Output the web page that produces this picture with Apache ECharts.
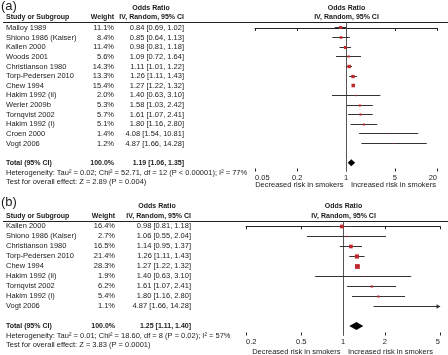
<!DOCTYPE html>
<html>
<head>
<meta charset="utf-8">
<script src="https://cdn.jsdelivr.net/npm/echarts@6/dist/echarts.min.js"></script>
<style>
  html, body { margin: 0; padding: 0; background: #fff; }
  #chart { width: 448px; height: 355px; }
</style>
</head>
<body>
<div id="chart"></div>
<script>
// panel (a): all studies
const studiesA = ['Malloy 1989', 'Shiono 1986 (Kaiser)', 'Kallen 2000', 'Woods 2001', 'Christianson 1980',
  'Torp-Pedersen 2010', 'Chew 1994', 'Hakim 1992 (ii)', 'Werler 2009b', 'Tornqvist 2002',
  'Hakim 1992 (i)', 'Croen 2000', 'Vogt 2006'];
const weightsA = [11.1, 8.4, 11.4, 5.6, 14.3, 13.3, 15.4, 2.0, 5.3, 5.7, 5.1, 1.4, 1.2];
const orA = [0.84, 0.85, 0.98, 1.09, 1.11, 1.26, 1.27, 1.40, 1.58, 1.61, 1.80, 4.08, 4.87];
const loA = [0.69, 0.64, 0.81, 0.72, 1.01, 1.11, 1.22, 0.63, 1.03, 1.07, 1.16, 1.54, 1.66];
const hiA = [1.02, 1.13, 1.18, 1.64, 1.22, 1.43, 1.32, 3.10, 2.42, 2.41, 2.80, 10.81, 14.28];
const totalA = [1.19, 1.06, 1.35];
const hetA = 'Heterogeneity: Tau\u00b2 = 0.02; Chi\u00b2 = 52.71, df = 12 (P < 0.00001); I\u00b2 = 77%';
const testA = 'Test for overall effect: Z = 2.89 (P = 0.004)';
const ticksA = [0.05, 0.2, 1, 5, 20];
const tickLabelsA = ['0.05', '0.2', '1', '5', '20'];

// panel (b): subset
const studiesB = ['Kallen 2000', 'Shiono 1986 (Kaiser)', 'Christianson 1980', 'Torp-Pedersen 2010',
  'Chew 1994', 'Hakim 1992 (ii)', 'Tornqvist 2002', 'Hakim 1992 (i)', 'Vogt 2006'];
const weightsB = [16.4, 2.7, 16.5, 21.4, 28.3, 1.9, 6.2, 5.4, 1.1];
const orB = [0.98, 1.06, 1.14, 1.26, 1.27, 1.40, 1.61, 1.80, 4.87];
const loB = [0.81, 0.55, 0.95, 1.11, 1.22, 0.63, 1.07, 1.16, 1.66];
const hiB = [1.18, 2.04, 1.37, 1.43, 1.32, 3.10, 2.41, 2.80, 14.28];
const totalB = [1.25, 1.11, 1.40];
const hetB = 'Heterogeneity: Tau\u00b2 = 0.01; Chi\u00b2 = 18.60, df = 8 (P = 0.02); I\u00b2 = 57%';
const testB = 'Test for overall effect: Z = 3.83 (P = 0.0001)';
const ticksB = [0.2, 0.5, 1, 2, 5];
const tickLabelsB = ['0.2', '0.5', '1', '2', '5'];

const FONT = "'Liberation Sans', Arial, sans-serif";
const TXT = '#1a1a1a';
const SQUARE = '#c0282d';
const REG_SIZE = 7.5;
const BOLD_SIZE = 7;

const snap = v => Math.round(v - 0.5) + 0.5;
const fmtOr = (o, l, h) => `${o.toFixed(2)} [${l.toFixed(2)}, ${h.toFixed(2)}]`;

function txt(x, y, text, align, bold) {
  return {
    type: 'text', x: x, y: y,
    style: {
      text: text, fill: TXT, align: align || 'left', verticalAlign: 'middle',
      font: bold ? `bold ${BOLD_SIZE}px ${FONT}` : `${REG_SIZE}px ${FONT}`
    }
  };
}

// layout of each panel (pixels / row units)
const layoutA = {
  top: 22, bottom: 171.5, left: 255, right: 437, ymin: -0.62, ymax: 14.9,
  nameX: 6, weightX: 114, orX: 184, orHeadX: 151,
  totalRow: 14, hetRow: 15, testRow: 16, head1: -2.1, head2: -1.1, noteDy: 13.5, diamondH: 3.5
};
const layoutB = {
  top: 221, bottom: 335.5, left: 246, right: 440, ymin: -0.53, ymax: 10.95,
  nameX: 6, weightX: 115, orX: 191, orHeadX: 157,
  totalRow: 10, hetRow: 11, testRow: 11.92, head1: -2.05, head2: -1.05, noteDy: 16.5, diamondH: 4
};

function buildPanel(p, d, L) {
  const xi = p * 2, yi = p;
  const lmin = Math.log10(d.ticks[0]);
  const lmax = Math.log10(d.ticks[d.ticks.length - 1]);
  const tickVals = d.ticks.map(t => Math.log10(t));
  const labelOf = v => {
    const k = tickVals.findIndex(t => Math.abs(t - v) < 1e-6);
    return k >= 0 ? d.tickLabels[k] : '';
  };

  const grid = { left: L.left, top: L.top, width: L.right - L.left, height: L.bottom - L.top };
  const xAxes = [
    {
      gridIndex: p, type: 'value', min: lmin, max: lmax, position: 'bottom',
      axisLine: { lineStyle: { color: '#222', width: 1 } },
      axisTick: { customValues: tickVals, length: 3, lineStyle: { color: '#222' } },
      axisLabel: {
        customValues: tickVals, formatter: labelOf, fontSize: REG_SIZE, fontFamily: FONT, color: TXT,
        margin: 2, alignMinLabel: 'left', alignMaxLabel: 'right'
      },
      splitLine: { show: false }
    },
    {
      gridIndex: p, type: 'value', min: lmin, max: lmax, position: 'bottom', offset: 0,
      axisLine: { show: false },
      axisTick: { customValues: tickVals, inside: true, length: 3, lineStyle: { color: '#222' } },
      axisLabel: { show: false },
      splitLine: { show: false }
    }
  ];
  const yAxis = { gridIndex: p, type: 'value', inverse: true, min: L.ymin, max: L.ymax, show: false };

  const common = { type: 'custom', xAxisIndex: xi, yAxisIndex: yi, silent: true, clip: false };

  // header rule, line of no effect, headings and direction notes
  const frame = Object.assign({}, common, {
    data: [[0, 0]],
    renderItem: (params, api) => {
      const x1 = snap(api.coord([0, 0])[0]);
      const yTop = snap(api.coord([0, L.ymin])[1]);
      const yBot = api.coord([0, L.ymax])[1];
      const h1 = api.coord([0, L.head1])[1];
      const h2 = api.coord([0, L.head2])[1];
      return {
        type: 'group', children: [
          { type: 'line', shape: { x1: 3, y1: yTop, x2: 448, y2: yTop }, style: { stroke: '#222', lineWidth: 1 } },
          { type: 'line', shape: { x1: x1, y1: yTop, x2: x1, y2: yBot }, style: { stroke: '#555', lineWidth: 1 } },
          txt(x1, h1, 'Odds Ratio', 'center', true),
          txt(x1, h2, 'IV, Random, 95% CI', 'center', true),
          txt(L.nameX, h2, 'Study or Subgroup', 'left', true),
          txt(L.weightX, h2, 'Weight', 'right', true),
          txt(L.orHeadX, h1, 'Odds Ratio', 'center', true),
          txt(L.orX, h2, 'IV, Random, 95% CI', 'right', true),
          txt(x1 - 3, yBot + L.noteDy, 'Decreased risk in smokers', 'right'),
          txt(x1 + 4.5, yBot + L.noteDy, 'Increased risk in smokers', 'left')
        ]
      };
    }
  });

  // study rows of the table
  const table = Object.assign({}, common, {
    data: d.studies.map((s, i) => [0, i]),
    renderItem: (params, api) => {
      const i = params.dataIndex;
      const y = api.coord([0, i])[1];
      return {
        type: 'group', children: [
          txt(L.nameX, y, d.studies[i], 'left'),
          txt(L.weightX, y, d.weights[i].toFixed(1) + '%', 'right'),
          txt(L.orX, y, fmtOr(d.or[i], d.lo[i], d.hi[i]), 'right')
        ]
      };
    }
  });

  // total, heterogeneity and overall test rows
  const footer = Object.assign({}, common, {
    data: [[0, L.totalRow]],
    renderItem: (params, api) => {
      const yT = api.coord([0, L.totalRow])[1];
      const yH = api.coord([0, L.hetRow])[1];
      const yZ = api.coord([0, L.testRow])[1];
      return {
        type: 'group', children: [
          txt(L.nameX, yT, 'Total (95% CI)', 'left', true),
          txt(L.weightX, yT, '100.0%', 'right', true),
          txt(L.orX, yT, fmtOr(d.total[0], d.total[1], d.total[2]), 'right', true),
          txt(L.nameX, yH, d.het, 'left'),
          txt(L.nameX, yZ, d.test, 'left')
        ]
      };
    }
  });

  // confidence intervals and weighted squares
  const forest = Object.assign({}, common, {
    data: d.studies.map((s, i) => [i, d.or[i], d.lo[i], d.hi[i], d.weights[i]]),
    renderItem: (params, api) => {
      const i = api.value(0);
      const y = snap(api.coord([0, i])[1]);
      const xlo = api.coord([Math.max(Math.log10(api.value(2)), lmin), i])[0];
      const xhiRaw = api.coord([Math.log10(api.value(3)), i])[0];
      const xmax = api.coord([lmax, i])[0];
      const clipped = xhiRaw > xmax;
      const xhi = clipped ? xmax : xhiRaw;
      const xo = api.coord([Math.log10(api.value(1)), i])[0];
      const s = Math.max(0.9 * Math.sqrt(api.value(4)), 1);
      const children = [
        { type: 'line', shape: { x1: xlo, y1: y, x2: xhi, y2: y }, style: { stroke: '#333', lineWidth: 1 } },
        { type: 'rect', shape: { x: xo - s / 2, y: y - s / 2, width: s, height: s }, style: { fill: SQUARE } }
      ];
      if (clipped) {
        children.push({
          type: 'polygon',
          shape: { points: [[xmax + 0.5, y], [xmax - 3.5, y - 2.2], [xmax - 3.5, y + 2.2]] },
          style: { fill: '#333' }
        });
      }
      return { type: 'group', children: children };
    }
  });

  // pooled estimate
  const diamond = Object.assign({}, common, {
    data: [[L.totalRow, d.total[0], d.total[1], d.total[2]]],
    renderItem: (params, api) => {
      const r = api.value(0);
      const y = api.coord([0, r])[1];
      const xe = api.coord([Math.log10(api.value(1)), r])[0];
      const xl = api.coord([Math.log10(api.value(2)), r])[0];
      const xh = api.coord([Math.log10(api.value(3)), r])[0];
      const h = L.diamondH;
      return {
        type: 'polygon',
        shape: { points: [[xl, y], [xe, y - h], [xh, y], [xe, y + h]] },
        style: { fill: '#000' }
      };
    }
  });

  return { grid, xAxes, yAxis, series: [frame, table, footer, forest, diamond] };
}

const panelA = buildPanel(0, {
  studies: studiesA, weights: weightsA, or: orA, lo: loA, hi: hiA, total: totalA,
  het: hetA, test: testA, ticks: ticksA, tickLabels: tickLabelsA
}, layoutA);
const panelB = buildPanel(1, {
  studies: studiesB, weights: weightsB, or: orB, lo: loB, hi: hiB, total: totalB,
  het: hetB, test: testB, ticks: ticksB, tickLabels: tickLabelsB
}, layoutB);

const chart = echarts.init(document.getElementById('chart'), null, { renderer: 'canvas' });
chart.setOption({
  animation: false,
  backgroundColor: '#fff',
  textStyle: { fontFamily: FONT },
  grid: [panelA.grid, panelB.grid],
  xAxis: panelA.xAxes.concat(panelB.xAxes),
  yAxis: [panelA.yAxis, panelB.yAxis],
  graphic: [
    { type: 'text', left: 1, top: 0, style: { text: '(a)', font: '13px ' + FONT, fill: TXT } },
    { type: 'text', left: 1, top: 196, style: { text: '(b)', font: '13px ' + FONT, fill: TXT } }
  ],
  series: panelA.series.concat(panelB.series)
});
</script>
</body>
</html>
